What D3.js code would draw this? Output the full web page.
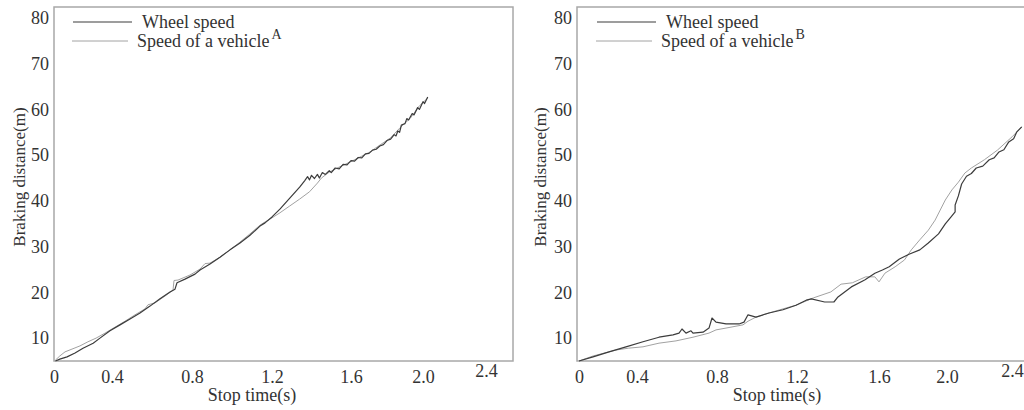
<!DOCTYPE html>
<html>
<head>
<meta charset="utf-8">
<title>Braking distance vs stop time</title>
<script src="https://d3js.org/d3.v7.min.js"></script>
<style>
    body { margin: 0; background: #fff; }
    svg { display: block; font-family: "Liberation Serif", "Times New Roman", serif; }
    .frame { fill: none; stroke: #a8a8a8; stroke-width: 1.5; }
    .wheel { fill: none; stroke: #3c3c3c; stroke-width: 1.2; stroke-linejoin: round; }
    .vehicle { fill: none; stroke: #a2a2a2; stroke-width: 1; stroke-linejoin: round; }
    .tick text { fill: #333; }
    .title { fill: #333; }
</style>
</head>
<body>
<script>
// values: stop time (s) and braking distance (m)
var xTicks = [0, 0.4, 0.8, 1.2, 1.6, 2.0, 2.4];
var xTickLabels = ["0", "0.4", "0.8", "1.2", "1.6", "2.0", "2.4"];
var yTicks = [10, 20, 30, 40, 50, 60, 70, 80];
var seriesNames = ["Wheel speed", "Speed of a vehicle"];
var panelTags = ["A", "B"];

var wheelTimeA = [0.01, 0.04, 0.09, 0.145, 0.2, 0.27, 0.317, 0.386, 0.44, 0.49, 0.54, 0.59, 0.64, 0.69, 0.715, 0.725, 0.765, 0.815, 0.84, 0.89, 0.94, 0.99, 1.04, 1.09, 1.14, 1.165, 1.2, 1.24, 1.29, 1.34,
    1.365, 1.38, 1.39, 1.4, 1.415, 1.43, 1.44, 1.455, 1.47, 1.49, 1.5, 1.52, 1.54, 1.56, 1.58, 1.6, 1.62, 1.64, 1.66, 1.68, 1.7, 1.72, 1.74, 1.76, 1.78, 1.8, 1.82, 1.84, 1.85, 1.86, 1.87, 1.88, 1.9, 1.91, 1.92, 1.94, 1.95, 1.97, 1.98, 2.0, 2.01, 2.03];
var wheelDistA = [5.0, 5.4, 5.9, 6.75, 7.8, 8.9, 10.0, 11.6, 12.9, 14.2, 15.5, 17.0, 18.6, 20.1, 20.7, 22.1, 22.9, 24.0, 24.9, 26.2, 27.7, 29.3, 30.8, 32.5, 34.5, 35.2, 36.5, 38.2, 40.6, 43.0,
    44.4, 45.3, 44.6, 45.6, 44.9, 45.8, 45.0, 46.2, 45.8, 46.6, 46.2, 47.2, 47.0, 48.0, 47.9, 48.8, 48.7, 49.5, 49.4, 50.3, 50.4, 51.1, 51.3, 52.0, 52.3, 53.2, 53.5, 54.5, 54.2, 55.3, 55.0, 56.6, 56.9, 58.0, 57.7, 59.1, 58.8, 60.4, 60.0, 61.7, 61.3, 62.7];

var vehicleTimeA = [0.01, 0.04, 0.076, 0.124, 0.179, 0.234, 0.29, 0.352, 0.415, 0.465, 0.515, 0.565, 0.58, 0.615, 0.665, 0.705, 0.71, 0.73, 0.79, 0.84, 0.865, 0.89, 0.94, 0.99, 1.04, 1.09, 1.14, 1.165, 1.2, 1.24, 1.29, 1.34, 1.39, 1.43, 1.45, 1.49, 1.54, 1.595, 1.65, 1.705, 1.76, 1.82, 1.87, 1.93, 1.98, 2.03];
var vehicleDistA = [5.2, 6.1, 7.0, 7.6, 8.3, 9.2, 10.0, 11.1, 12.4, 13.7, 15.1, 16.4, 17.3, 17.7, 19.2, 20.5, 22.6, 22.7, 23.8, 25.1, 26.3, 26.4, 27.7, 29.3, 31.0, 32.8, 34.7, 35.4, 36.3, 37.4, 38.9, 40.4, 42.0, 43.9, 45.0, 46.3, 47.4, 48.5, 49.6, 50.7, 52.2, 53.8, 55.9, 58.1, 60.8, 62.5];

var wheelTimeB = [0, 0.097, 0.207, 0.324, 0.43, 0.51, 0.58, 0.61, 0.625, 0.645, 0.67, 0.68, 0.73, 0.76, 0.775, 0.795, 0.845, 0.91, 0.935, 0.955, 0.995, 1.06, 1.13, 1.195, 1.245, 1.27, 1.335, 1.38, 1.4, 1.465, 1.53, 1.58, 1.62, 1.66, 1.72, 1.78, 1.84, 1.89, 1.95, 1.99,
    2.02, 2.05, 2.05, 2.07, 2.09, 2.12, 2.15, 2.18, 2.22, 2.26, 2.29, 2.32, 2.35, 2.38, 2.41, 2.43, 2.46];
var wheelDistB = [5.0, 5.9, 7.0, 8.1, 9.2, 10.2, 10.7, 11.1, 12.0, 11.1, 11.6, 11.1, 11.3, 12.2, 14.4, 13.5, 13.1, 13.1, 13.5, 15.1, 14.6, 15.5, 16.2, 17.2, 18.3, 18.6, 17.9, 17.9, 19.0, 21.2, 22.7, 24.2, 24.9, 25.6, 27.3, 28.4, 29.3, 30.8, 32.8, 35.0,
    36.3, 37.6, 39.1, 41.1, 43.7, 45.4, 46.0, 47.2, 47.6, 49.0, 49.4, 50.7, 51.2, 52.9, 53.6, 55.1, 56.2];

var vehicleTimeB = [0, 0.097, 0.207, 0.255, 0.34, 0.43, 0.51, 0.595, 0.68, 0.76, 0.795, 0.845, 0.93, 0.955, 0.995, 1.06, 1.13, 1.195, 1.28, 1.365, 1.415, 1.47, 1.535, 1.58, 1.6, 1.635, 1.695, 1.75, 1.79, 1.84, 1.89, 1.93, 1.96, 1.99, 2.03, 2.07, 2.11, 2.15, 2.23, 2.31, 2.4, 2.46];
var vehicleDistB = [5.0, 6.1, 7.0, 7.4, 7.8, 8.1, 8.9, 9.4, 10.2, 11.1, 11.8, 12.2, 12.9, 13.7, 14.6, 15.5, 16.4, 17.2, 18.8, 20.1, 21.8, 22.1, 23.4, 23.4, 22.3, 24.2, 25.6, 27.1, 29.3, 31.5, 33.6, 35.8, 38.0, 40.2, 42.4, 44.1, 46.1, 47.2, 49.0, 51.1, 54.0, 56.2];

var serif = "Liberation Serif";

var svg = d3.select("body").append("svg")
    .attr("width", 1024).attr("height", 410);

// each panel: plot box, where the x tick labels sit, legend anchor
var panels = [
    {left: 54, right: 513, xPx: [54, 112, 192, 272, 351, 423, 486], legendX: 73, titleX: 252, yTitleX: 19,
     wheel: [wheelTimeA, wheelDistA], vehicle: [vehicleTimeA, vehicleDistA], tag: panelTags[0]},
    {left: 577, right: 1026, xPx: [579, 637, 717, 797, 879, 947, 1012], legendX: 597, titleX: 777, yTitleX: 540,
     wheel: [wheelTimeB, wheelDistB], vehicle: [vehicleTimeB, vehicleDistB], tag: panelTags[1]}
];
var plotTop = 7, plotBottom = 361;

var y = d3.scaleLinear().domain([5, 82.4]).range([plotBottom, plotTop]);

panels.forEach(function(p) {
    var x = d3.scaleLinear().domain(xTicks).range(p.xPx);
    var g = svg.append("g");

    g.append("rect").attr("class", "frame")
        .attr("x", p.left).attr("y", plotTop)
        .attr("width", p.right - p.left).attr("height", plotBottom - plotTop);

    var xAxis = g.append("g").attr("transform", "translate(0," + plotBottom + ")")
        .call(d3.axisBottom(x).tickValues(xTicks).tickSize(0).tickPadding(9)
            .tickFormat(function(d, i) { return xTickLabels[i]; }));
    xAxis.attr("font-family", serif).attr("font-size", 18);
    xAxis.select(".domain").remove();
    // the last label is printed a little higher in the scan
    xAxis.selectAll(".tick").filter(function(d) { return d === 2.4; })
        .select("text").attr("y", 3);

    var yAxis = g.append("g").attr("transform", "translate(" + p.left + ",0)")
        .call(d3.axisLeft(y).tickValues(yTicks).tickSize(0).tickPadding(5));
    yAxis.attr("font-family", serif).attr("font-size", 18);
    yAxis.select(".domain").remove();

    g.append("text").attr("class", "title")
        .attr("x", p.titleX).attr("y", 401)
        .attr("text-anchor", "middle").attr("font-size", 18)
        .text("Stop time(s)");
    g.append("text").attr("class", "title")
        .attr("transform", "translate(" + p.yTitleX + ",177) rotate(-90)")
        .attr("text-anchor", "middle").attr("dy", "0.35em").attr("font-size", 17)
        .text("Braking distance(m)");

    var line = d3.line()
        .x(function(d) { return x(d[0]); })
        .y(function(d) { return y(d[1]); });

    g.append("path").attr("class", "vehicle")
        .attr("d", line(d3.zip(p.vehicle[0], p.vehicle[1])));
    g.append("path").attr("class", "wheel")
        .attr("d", line(d3.zip(p.wheel[0], p.wheel[1])));

    // legend
    var lx = p.legendX;
    g.append("line").attr("class", "wheel")
        .attr("x1", lx).attr("x2", lx + 59).attr("y1", 22).attr("y2", 22);
    g.append("text").attr("class", "title").attr("font-size", 18)
        .attr("x", lx + 69).attr("y", 28).text(seriesNames[0]);
    g.append("line").attr("class", "vehicle")
        .attr("x1", lx - 1).attr("x2", lx + 55).attr("y1", 41).attr("y2", 41);
    var t2 = g.append("text").attr("class", "title").attr("font-size", 18)
        .attr("x", lx + 64).attr("y", 47);
    t2.append("tspan").text(seriesNames[1]);
    t2.append("tspan").attr("font-size", 14).attr("dx", 2).attr("dy", -8).text(p.tag);
});
</script>
</body>
</html>
